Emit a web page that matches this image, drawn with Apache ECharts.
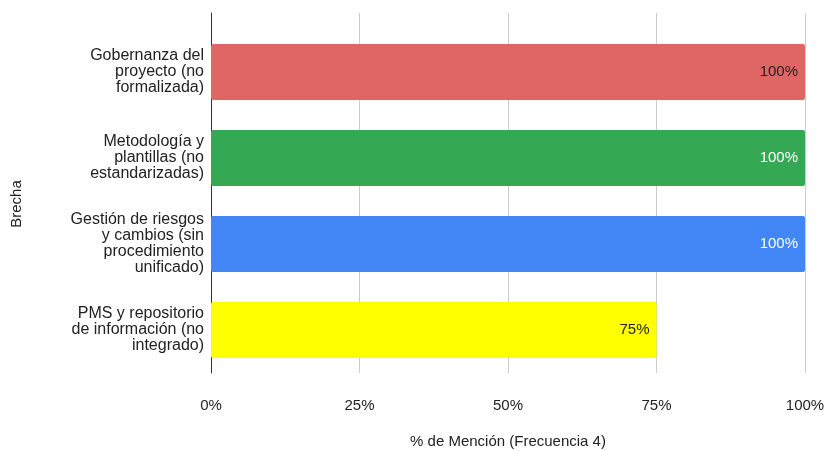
<!DOCTYPE html>
<html>
<head>
<meta charset="utf-8">
<script src="https://cdn.jsdelivr.net/npm/echarts@6/dist/echarts.min.js"></script>
<style>
html,body{margin:0;padding:0;background:#fff;}
#chart{width:829px;height:451px;}
</style>
</head>
<body>
<div id="chart"></div>
<script>
// Gaps listed top to bottom
const categories = [
  'Gobernanza del\nproyecto (no\nformalizada)',
  'Metodología y\nplantillas (no\nestandarizadas)',
  'Gestión de riesgos\ny cambios (sin\nprocedimiento\nunificado)',
  'PMS y repositorio\nde información (no\nintegrado)'
];
const mentionPct = [100, 100, 100, 75];
const barColors = ['#e06666', '#34a853', '#4285f4', '#ffff00'];
const labelColors = ['#222222', '#ffffff', '#ffffff', '#222222'];
const xTicks = [0, 25, 50, 75, 100];

const font = 'Liberation Sans, Arial, sans-serif';
const fs = 16;

const chart = echarts.init(document.getElementById('chart'));
chart.setOption({
  animation: false,
  graphic: [{
    type: 'text',
    x: 17, y: 204,
    rotation: Math.PI / 2,
    style: {
      text: 'Brecha', fill: '#222222', font: '15px ' + font,
      align: 'center', verticalAlign: 'middle'
    }
  }],
  grid: [
    { left: 211, right: 24, top: 29, bottom: 78, outerBoundsMode: 'none', containLabel: false },
    { left: 211, right: 24, top: 13, bottom: 78, outerBoundsMode: 'none', containLabel: false }
  ],
  xAxis: [
    {
      gridIndex: 0, type: 'value', min: 0, max: 100, interval: 25,
      axisLine: { show: false }, axisTick: { show: false },
      splitLine: { show: false },
      axisLabel: { show: false }
    },
    {
      gridIndex: 1, type: 'value', min: xTicks[0], max: xTicks[xTicks.length - 1], interval: 25,
      axisLine: { show: false }, axisTick: { show: false },
      splitLine: { show: true, lineStyle: { color: '#cccccc', width: 1 } },
      axisLabel: {
        formatter: v => v + '%', color: '#222222', fontSize: 15,
        fontFamily: font, margin: 25
      },
      name: '% de Mención (Frecuencia 4)', nameLocation: 'middle', nameGap: 61,
      nameTextStyle: { color: '#222222', fontSize: 15, fontFamily: font }
    }
  ],
  yAxis: [
    {
      gridIndex: 0, type: 'category', data: categories, inverse: true,
      axisLine: { show: false }, axisTick: { show: false },
      axisLabel: {
        color: '#222222', fontSize: fs, fontFamily: font, lineHeight: 16,
        align: 'right', margin: 7
      }
    },
    {
      gridIndex: 1, type: 'value', min: 0, max: 1,
      axisLine: { show: true, lineStyle: { color: '#333333', width: 1 } },
      axisTick: { show: false }, axisLabel: { show: false },
      splitLine: { show: false }
    }
  ],
  series: [{
    type: 'bar',
    xAxisIndex: 0, yAxisIndex: 0,
    barCategoryGap: '35%',
    data: mentionPct.map((v, i) => ({
      value: v,
      itemStyle: { color: barColors[i], borderRadius: 2 },
      label: { color: labelColors[i] }
    })),
    label: {
      show: true, position: 'insideRight', distance: 7,
      formatter: p => p.value + '%', fontSize: 15, fontFamily: font
    }
  }]
});
</script>
</body>
</html>
